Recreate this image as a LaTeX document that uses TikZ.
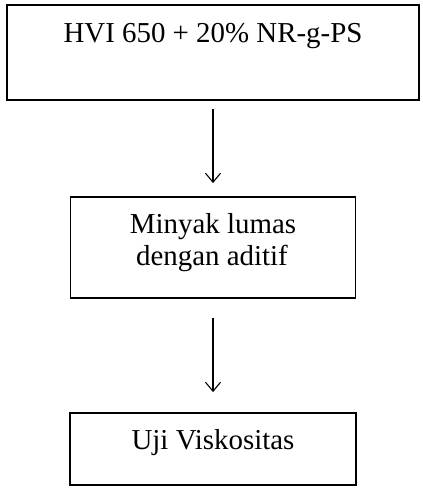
\documentclass[tikz,border=0pt]{standalone}
\usepackage{fontspec}
\setmainfont{Liberation Serif}
\usetikzlibrary{arrows.meta}

\tikzset{
  kotak/.style={draw, line width=1.8bp, inner sep=0pt},
  teks/.style={anchor=base, font=\fontsize{29}{32.5}\selectfont, align=center, inner sep=0pt},
  panah/.style={-{Straight Barb[length=9bp,width=15bp]}, line width=1.1bp},
}

\begin{document}
\begin{tikzpicture}[x=1bp,y=-1bp]
          \useasboundingbox (0,0) rectangle (422,496);
          % kotak-kotak
          \node[kotak, minimum width=412bp, minimum height=95bp] (hvi) at (213,52.5) {};
          \node[kotak, minimum width=285bp, minimum height=101bp] (minyak) at (213,247.5) {};
          \node[kotak, minimum width=286bp, minimum height=72bp] (uji) at (213,449) {};
          % tulisan
          \node[teks] (thvi) at (213,43) {HVI 650 + 20\% NR-g-PS};
          \node[teks] (tminyak1) at (213,233) {Minyak lumas};
          \node[teks] (tminyak2) at (212,265) {dengan aditif};
          \node[teks] (tuji) at (213,449) {Uji Viskositas};
          % panah
          \draw[panah, shorten <=8bp, shorten >=13bp] (hvi.south) -- (minyak.north);
          \draw[panah, shorten <=19bp, shorten >=20bp] (minyak.south) -- (uji.north);
        \end{tikzpicture}
\end{document}
